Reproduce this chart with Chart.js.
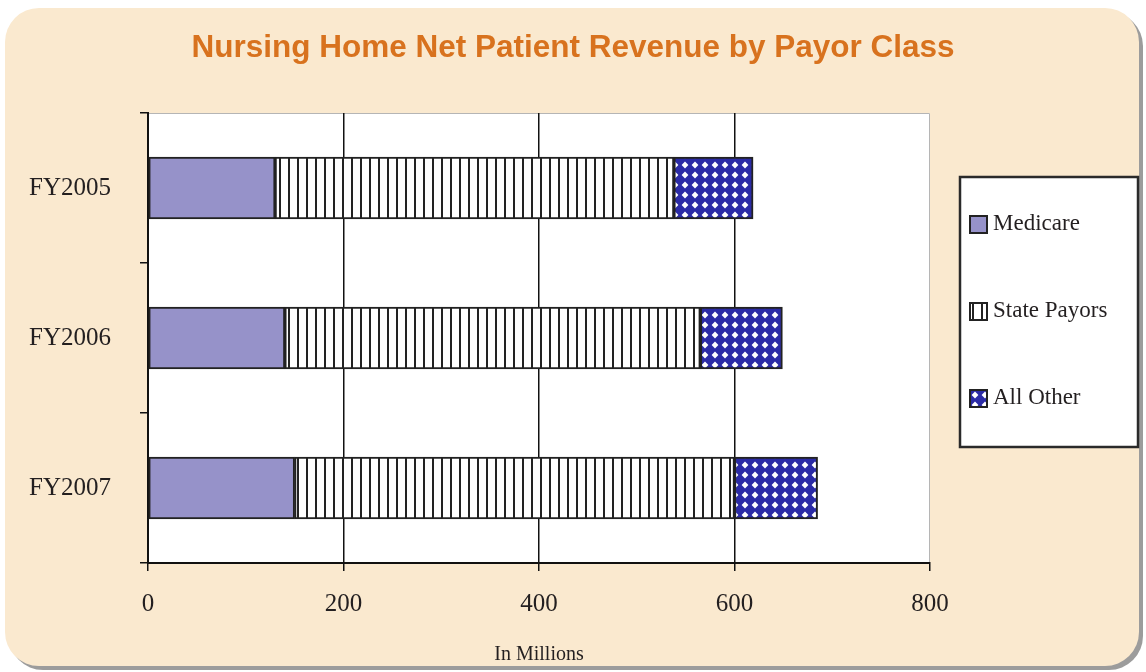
<!DOCTYPE html>
<html>
<head>
<meta charset="utf-8">
<script src="https://cdn.jsdelivr.net/npm/chart.js@4"></script>
<style>
  html, body { margin: 0; padding: 0; background: #fff; }
  #wrap { position: relative; width: 1146px; height: 672px; overflow: hidden; }
  #panel {
    position: absolute; left: 5px; top: 8px; width: 1134px; height: 658px;
    background: #fae9cf; border-radius: 34px;
    box-shadow: 4px 4px 0 #9c9c9c;
  }
  #myChart { position: absolute; left: 0; top: 0; }
</style>
</head>
<body>
<div id="wrap">
  <div id="panel"></div>
  <canvas id="myChart" width="1146" height="672"></canvas>
</div>
<script>
const years = ['FY2005', 'FY2006', 'FY2007'];
const medicare = [130, 140, 150];
const statePayors = [408, 425, 450];
const allOther = [81, 84, 85];
const seriesNames = ['Medicare', 'State Payors', 'All Other'];
const xTicks = [0, 200, 400, 600, 800];

// fill patterns
function stripes() {
    const c = document.createElement('canvas');
    c.width = 9; c.height = 4;
    const g = c.getContext('2d');
    g.fillStyle = '#fff';
    g.fillRect(0, 0, 9, 4);
    g.fillStyle = '#222';
    g.fillRect(0, 0, 2, 4);
    return g.createPattern(c, 'repeat');
}
function crosshatch() {
    const c = document.createElement('canvas');
    c.width = 10; c.height = 10;
    const g = c.getContext('2d');
    g.fillStyle = '#2b2ba6';
    g.fillRect(0, 0, 10, 10);
    g.fillStyle = '#fff';
    const r = 3.4;
    g.beginPath();
    g.moveTo(5, 5 - r); g.lineTo(5 + r, 5); g.lineTo(5, 5 + r); g.lineTo(5 - r, 5);
    g.closePath();
    g.fill();
    return g.createPattern(c, 'repeat');
}

const fills = ['#9692c9', stripes(), crosshatch()];

// white plot area + boxed legend
const decor = {
    id: 'decor',
    beforeDraw(chart) {
        const a = chart.chartArea, ctx = chart.ctx;
        ctx.save();
        ctx.fillStyle = '#fff';
        ctx.fillRect(a.left, a.top, a.right - a.left, a.bottom - a.top);
        ctx.strokeStyle = '#b5b5b5';
        ctx.lineWidth = 1;
        ctx.beginPath();
        ctx.moveTo(a.left, a.top + 0.5); ctx.lineTo(a.right - 0.5, a.top + 0.5); ctx.lineTo(a.right - 0.5, a.bottom);
        ctx.stroke();
        ctx.restore();
    },
    afterDraw(chart) {
        const a = chart.chartArea, ctx = chart.ctx;
        const bx = a.right + 30, by = a.top + 64, bw = 178, bh = 270;
        ctx.save();
        ctx.fillStyle = '#fff';
        ctx.fillRect(bx, by, bw, bh);
        ctx.strokeStyle = '#2a2a2a';
        ctx.lineWidth = 2.5;
        ctx.strokeRect(bx, by, bw, bh);
        ctx.font = '23px "Liberation Serif", serif';
        ctx.textBaseline = 'middle';
        chart.data.datasets.forEach((ds, i) => {
            const cy = by + 47 + i * 87;
            ctx.fillStyle = ds.backgroundColor;
            ctx.fillRect(bx + 10, cy - 8, 17, 17);
            ctx.strokeStyle = '#222';
            ctx.lineWidth = 2;
            ctx.strokeRect(bx + 10, cy - 8, 17, 17);
            ctx.fillStyle = '#231f20';
            ctx.fillText(ds.label, bx + 33, cy);
        });
        ctx.restore();
    }
};

const series = [medicare, statePayors, allOther];

new Chart(document.getElementById('myChart'), {
    type: 'bar',
    data: {
        labels: years,
        datasets: series.map((vals, i) => ({
            label: seriesNames[i],
            data: vals,
            backgroundColor: fills[i],
            borderColor: '#222',
            borderWidth: 2,
            borderSkipped: false,
            barThickness: 62
        }))
    },
    options: {
        indexAxis: 'y',
        responsive: false,
        animation: false,
        layout: { padding: 0 },
        plugins: {
            legend: { display: false },
            tooltip: { enabled: false },
            title: {
                display: true,
                text: 'Nursing Home Net Patient Revenue by Payor Class',
                color: '#d8721e',
                font: { family: '"Liberation Sans", Arial, sans-serif', size: 31.5, weight: 'bold' },
                padding: { top: 29, bottom: 46.2 }
            }
        },
        scales: {
            x: {
                stacked: true,
                min: 0,
                max: 800,
                z: 1,
                afterBuildTicks: s => { s.ticks = xTicks.map(v => ({ value: v })); },
                afterFit: s => { s.height = 109; },
                border: { color: '#111', width: 2 },
                grid: {
                    color: c => (c.tick && c.tick.value === 800) ? 'rgba(0,0,0,0)' : '#111',
                    tickColor: '#111',
                    lineWidth: 1.5,
                    tickLength: 8
                },
                ticks: {
                    color: '#231f20',
                    padding: 18,
                    font: { family: '"Liberation Serif", serif', size: 25 }
                },
                title: {
                    display: true,
                    text: 'In Millions',
                    color: '#231f20',
                    font: { family: '"Liberation Serif", serif', size: 20 },
                    padding: { top: 0, bottom: 5 }
                }
            },
            y: {
                stacked: true,
                afterFit: s => { s.width = 148; },
                border: { color: '#111', width: 2 },
                grid: {
                    drawOnChartArea: false,
                    color: '#111',
                    lineWidth: 1.5,
                    tickLength: 8
                },
                ticks: {
                    color: '#231f20',
                    padding: 29,
                    font: { family: '"Liberation Serif", serif', size: 25 }
                }
            },
            yRight: {
                type: 'linear',
                position: 'right',
                display: true,
                afterFit: s => { s.width = 216; },
                border: { display: false },
                grid: { display: false },
                ticks: { display: false }
            }
        }
    },
    plugins: [decor]
});
</script>
</body>
</html>
